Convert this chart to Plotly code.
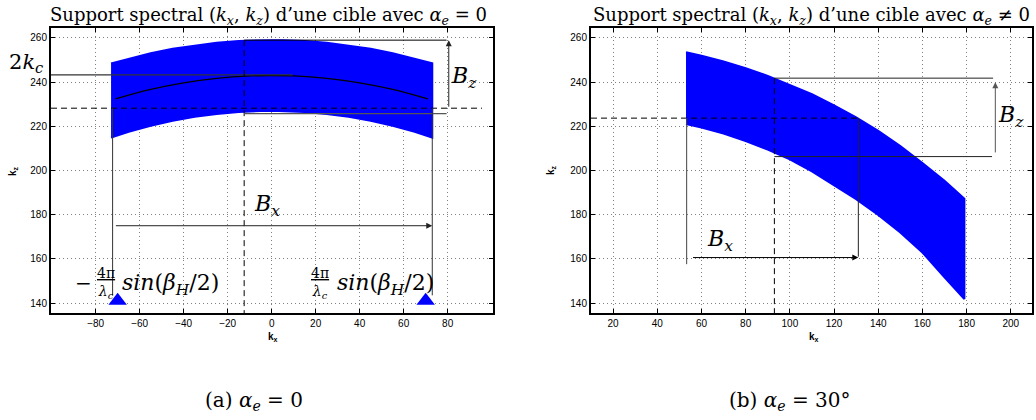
import plotly.graph_objects as go

# ---------------- data ----------------
# (a) alpha_e = 0 : spectral support (annular band between two arcs)
kx_a = [-73, -65, -55, -45, -35, -25, -15, -5, 0, 5, 15, 25, 35, 45, 55, 65, 73]
kz_a_outer = [248.5, 250.7, 253.1, 255.1, 256.6, 257.8, 258.6, 258.95, 259.0, 258.95, 258.6, 257.8, 256.6,
              255.1, 253.1, 250.7, 248.5]
kz_a_inner = [214.9, 217.5, 220.2, 222.5, 224.3, 225.6, 226.5, 226.9, 227.0, 226.9, 226.5, 225.6, 224.3,
              222.5, 220.2, 217.5, 214.9]
# central arc (2 k_c)
kx_arc = [-71, -55, -40, -25, -10, 0, 10, 25, 40, 55, 71]
kz_arc = [232.4, 236.7, 239.7, 241.7, 242.8, 243.0, 242.8, 241.7, 239.7, 236.7, 232.4]
# triangle markers at +-4pi/lambda_c sin(beta_H/2)
kx_markers = [-70, 70]
kz_markers = [141.0, 141.0]
# guide values, plot (a)
a_kc2 = 243.3          # 2 k_c level
a_kx_center = -12.5    # vertical dashed line
a_kz_mid = 228.2       # horizontal dashed line
a_kz_top = 259.0       # B_z upper level
a_kz_low = 225.7       # B_z lower level
a_kx_bz = 80.5         # B_z arrow abscissa
a_kx_left, a_kx_right = -72.3, 73.0
a_kz_bx = 175.0        # B_x arrow level
a_kz_vbot = 143.5      # bottom of vertical bounds

# (b) alpha_e = 30 deg
kx_b = [53, 60, 70, 80, 90, 100, 110, 120, 130, 140, 150, 160, 170, 179]
kz_b_outer = [253.5, 252.0, 249.4, 246.3, 242.8, 238.8, 234.5, 229.5, 224.1, 217.9, 211.1, 203.4, 195.4, 187.2]
kz_b_inner = [221.0, 219.5, 216.7, 213.3, 209.5, 205.0, 199.6, 193.5, 187.0, 179.9, 171.9, 162.9, 151.7, 141.8]
# guide values, plot (b)
b_kz_mid = 223.7
b_kx_center = 93.0
b_kz_top = 241.8
b_kz_low = 206.3
b_kx_bz = 193.0
b_kx_left, b_kx_right = 53.3, 131.0
b_kz_bx = 160.6
b_kz_vbot_left, b_kz_vbot_right = 157.6, 161.0

# axis ranges and ticks
xr_a = [-100.3, 100.6]
xr_b = [10.0, 209.6]
yr = [135.5, 264.5]
xt_a = [-80, -60, -40, -20, 0, 20, 40, 60, 80]
xt_b = [20, 40, 60, 80, 100, 120, 140, 160, 180, 200]
yt = [140, 160, 180, 200, 220, 240, 260]

W, H = 1036, 420
BLUE = "#0000ff"
SERIF = "DejaVu Serif, serif"
SANS = "Liberation Sans, Arial, sans-serif"

fig = go.Figure()


def band(kx, up, lo, xa, ya):
    xs = list(kx) + list(kx[::-1])
    ys = list(up) + list(lo[::-1])
    fig.add_trace(go.Scatter(x=xs, y=ys, fill="toself", fillcolor=BLUE, mode="lines",
                             line=dict(color=BLUE, width=2),
                             xaxis=xa, yaxis=ya, hoverinfo="skip"))


def seg(x0, x1, y0, y1, xa, ya, dash="solid", color="#222", width=1):
    fig.add_trace(go.Scatter(x=[x0, x1], y=[y0, y1], mode="lines",
                             line=dict(color=color, width=width, dash=dash),
                             xaxis=xa, yaxis=ya, hoverinfo="skip"))


def arrow(x_tail, y_tail, x_head, y_head, xa, ya, color="#222"):
    fig.add_annotation(x=x_head, y=y_head, ax=x_tail, ay=y_tail, xref=xa, yref=ya,
                       axref=xa, ayref=ya, text="", showarrow=True, arrowhead=2,
                       arrowsize=1.2, arrowwidth=1, arrowcolor=color)


DASH = "6px,4px"

# ---------- plot (a) ----------
band(kx_a, kz_a_outer, kz_a_inner, "x", "y")
fig.add_trace(go.Scatter(x=kx_arc, y=kz_arc, mode="lines", line=dict(color="black", width=1.3, shape="spline"),
                         xaxis="x", yaxis="y", hoverinfo="skip"))
seg(xr_a[0], 9.5, a_kc2, a_kc2, "x", "y", color="#333", width=1.3)
seg(a_kx_center, a_kx_center, a_kz_top, yr[0], "x", "y", dash=DASH, color="black")
seg(xr_a[0], 95.6, a_kz_mid, a_kz_mid, "x", "y", dash=DASH, color="black")
seg(a_kx_center, 79.5, a_kz_top, a_kz_top, "x", "y", color="black")
seg(a_kx_center, 79.5, a_kz_low, a_kz_low, "x", "y", color="#555", width=1.3)
seg(a_kx_left, a_kx_left, a_kz_mid, a_kz_vbot, "x", "y", color="#333")
seg(a_kx_right, a_kx_right, a_kz_mid, a_kz_vbot, "x", "y", color="#333")
arrow(a_kx_bz, a_kz_mid, a_kx_bz, a_kz_top, "x", "y")
arrow(-71.5, a_kz_bx, a_kx_right, a_kz_bx, "x", "y")
fig.add_trace(go.Scatter(x=kx_markers, y=kz_markers, mode="markers",
                         marker=dict(symbol="triangle-up", size=16, color=BLUE, line=dict(width=0)),
                         xaxis="x", yaxis="y", cliponaxis=False, hoverinfo="skip"))

# ---------- plot (b) ----------
band(kx_b, kz_b_outer, kz_b_inner, "x2", "y2")
seg(xr_b[0], b_kx_right, b_kz_mid, b_kz_mid, "x2", "y2", dash=DASH, color="black")
seg(b_kx_center, b_kx_center, b_kz_top, yr[0], "x2", "y2", dash=DASH, color="black")
seg(b_kx_center, 192.0, b_kz_top, b_kz_top, "x2", "y2", color="#222")
seg(b_kx_center, 191.5, b_kz_low, b_kz_low, "x2", "y2", color="#222")
seg(b_kx_left, b_kx_left, b_kz_mid, b_kz_vbot_left, "x2", "y2", color="#444")
seg(b_kx_right, b_kx_right, b_kz_mid, b_kz_vbot_right, "x2", "y2", color="#222")
arrow(b_kx_bz, 207.5, b_kx_bz, 240.0, "x2", "y2", color="#555")
arrow(55.5, b_kz_bx, b_kx_right, b_kz_bx, "x2", "y2", color="black")

# ---------- axes ----------
ydom = [1 - 313 / H, 1 - 28 / H]
axis_common = dict(showline=True, linecolor="black", linewidth=2, mirror="ticks",
                   ticks="inside", ticklen=4, tickcolor="black", tickwidth=1,
                   showgrid=True, gridcolor="#808080", griddash="1px,3px", gridwidth=1,
                   zeroline=False, automargin=False,
                   tickfont=dict(family=SANS, size=10, color="black"))
fig.update_layout(
    width=W, height=H, margin=dict(l=0, r=0, t=0, b=0, autoexpand=False),
    plot_bgcolor="white", paper_bgcolor="white", showlegend=False,
    xaxis=dict(domain=[51 / W, 493 / W], range=xr_a, tickvals=xt_a, anchor="y", **axis_common),
    yaxis=dict(domain=ydom, range=yr, tickvals=yt, anchor="x", **axis_common),
    xaxis2=dict(domain=[591 / W, 1032 / W], range=xr_b, tickvals=xt_b, anchor="y2", **axis_common),
    yaxis2=dict(domain=ydom, range=yr, tickvals=yt, anchor="x2", **axis_common),
)


def ptext(px, py, text, size, family=SERIF, angle=0, **kw):
    fig.add_annotation(x=px / W, y=1 - py / H, xref="paper", yref="paper", text=text,
                       showarrow=False, textangle=angle, xanchor="center", yanchor="middle",
                       font=dict(family=family, size=size, color="black"), **kw)


def dtext(x, y, text, size, xa, ya, family=SERIF, **kw):
    fig.add_annotation(x=x, y=y, xref=xa, yref=ya, text=text, showarrow=False,
                       font=dict(family=family, size=size, color="black"), **kw)


# titles
ptext(268, 16, "Support spectral (<i>k<sub>x</sub></i>, <i>k<sub>z</sub></i>) d’une cible avec <i>α<sub>e</sub></i> = 0", 18)
ptext(811, 16, "Support spectral (<i>k<sub>x</sub></i>, <i>k<sub>z</sub></i>) d’une cible avec <i>α<sub>e</sub></i> ≠ 0", 18)
# captions
ptext(254, 401, "(a) <i>α<sub>e</sub></i> = 0", 20)
ptext(790, 401, "(b) <i>α<sub>e</sub></i> = 30°", 20)
# axis titles
ptext(273, 337, "<b>k<sub>x</sub></b>", 10, family=SANS)
ptext(814, 337, "<b>k<sub>x</sub></b>", 10, family=SANS)
ptext(13, 171, "<b>k<sub>z</sub></b>", 10, family=SANS, angle=-90)
ptext(551, 170, "<b>k<sub>z</sub></b>", 10, family=SANS, angle=-90)

# math labels plot (a)
ptext(26, 63, "2<i>k<sub>c</sub></i>", 21)
dtext(87.6, 242.0, "<i>B<sub>z</sub></i>", 22, "x", "y")
dtext(-1.9, 184.0, "<i>B<sub>x</sub></i>", 22, "x", "y")
ptext(83, 283, "−", 20)
ptext(106, 283, "<u>4π</u><br><i>λ<sub>c</sub></i>", 14)
ptext(170, 284, "<i>sin</i>(<i>β<sub>H</sub></i>/2)", 22)
ptext(320, 283, "<u>4π</u><br><i>λ<sub>c</sub></i>", 14)
ptext(385, 284, "<i>sin</i>(<i>β<sub>H</sub></i>/2)", 22)
# math labels plot (b)
dtext(199.9, 224.5, "<i>B<sub>z</sub></i>", 22, "x2", "y2")
dtext(68.4, 168.5, "<i>B<sub>x</sub></i>", 22, "x2", "y2")

# remove the browser's default page margin so the figure sits at the window origin
fig.write_html("out.html", config={"displayModeBar": False},
               post_script="document.body.style.margin='0px';")
